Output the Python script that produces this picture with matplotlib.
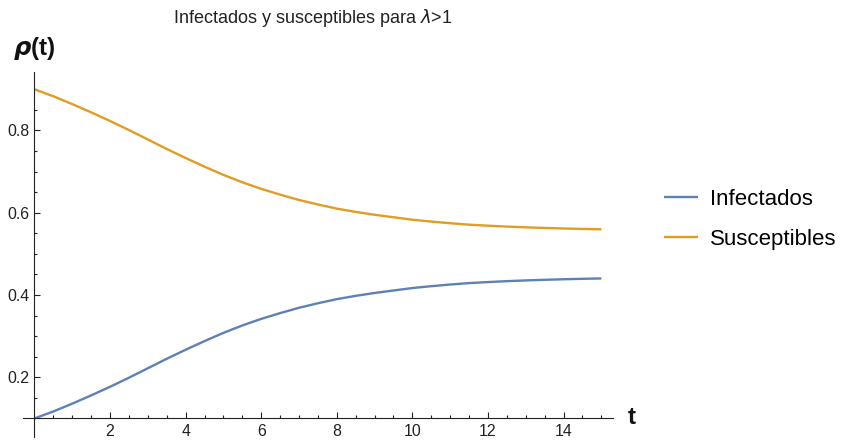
import matplotlib
matplotlib.use("Agg")
import matplotlib.pyplot as plt
from matplotlib.ticker import FixedLocator

plt.rcParams['font.family'] = ['Liberation Sans', 'DejaVu Sans']

t = [0, 0.5, 1, 1.5, 2, 2.5, 3, 3.5, 4, 4.5, 5, 5.5, 6, 6.5, 7, 7.5, 8, 8.5,
     9, 9.5, 10, 10.5, 11, 11.5, 12, 12.5, 13, 13.5, 14, 14.5, 15]
infectados = [0.100, 0.117, 0.136, 0.156, 0.177, 0.199, 0.222, 0.245, 0.267,
              0.288, 0.308, 0.326, 0.342, 0.356, 0.369, 0.380, 0.390, 0.398,
              0.405, 0.411, 0.417, 0.4215, 0.4255, 0.429, 0.4315, 0.4337,
              0.4355, 0.437, 0.4383, 0.4394, 0.4403]
susceptibles = [0.900, 0.883, 0.864, 0.844, 0.823, 0.801, 0.778, 0.755, 0.733,
                0.712, 0.692, 0.674, 0.658, 0.644, 0.631, 0.620, 0.610, 0.602,
                0.595, 0.589, 0.583, 0.5785, 0.5745, 0.571, 0.5685, 0.5663,
                0.5645, 0.563, 0.5617, 0.5606, 0.5597]
series_names = ["Infectados", "Susceptibles"]
title = "Infectados y susceptibles para $\\mathit{\\lambda}$>1"

W, H = 841, 441
fig = plt.figure(figsize=(W / 100, H / 100), dpi=100)
left, right, top, bottom = 22.7, 612.7, 72, 436.7
ax = fig.add_axes([left / W, 1 - bottom / H, (right - left) / W, (bottom - top) / H])

ax.plot(t, infectados, color='#5E81B5', lw=1.7, label=series_names[0], solid_capstyle='butt')
ax.plot(t, susceptibles, color='#E19C24', lw=1.7, label=series_names[1], solid_capstyle='butt')

ax.set_xlim(-0.31, 15.3)
ax.set_ylim(0.0557, 0.942)

for s in ['top', 'right']:
    ax.spines[s].set_visible(False)
ax.spines['left'].set_position(('data', 0))
ax.spines['bottom'].set_position(('data', 0.1))
for s in ['left', 'bottom']:
    ax.spines[s].set_linewidth(0.8)
    ax.spines[s].set_color('#222222')

ax.xaxis.set_major_locator(FixedLocator([2, 4, 6, 8, 10, 12, 14]))
ax.xaxis.set_minor_locator(FixedLocator([x * 0.5 for x in range(1, 31) if x % 4 != 0]))
ax.yaxis.set_major_locator(FixedLocator([0.2, 0.4, 0.6, 0.8]))
ax.yaxis.set_minor_locator(FixedLocator([0.15, 0.25, 0.3, 0.35, 0.45, 0.5, 0.55,
                                          0.65, 0.7, 0.75, 0.85, 0.9]))
ax.tick_params(which='both', direction='in', color='#222222', width=0.8,
               labelsize=11.4, labelcolor='#222222')
ax.tick_params(which='major', length=4.5)
ax.tick_params(which='minor', length=2.3)
ax.tick_params(axis='x', pad=4)
ax.tick_params(axis='y', pad=3.5)
ax.set_xticklabels(['2', '4', '6', '8', '10', '12', '14'])
ax.set_yticklabels(['0.2', '0.4', '0.6', '0.8'])

fig.text(312.5 / W, 1 - 18 / H, title, ha='center', va='center', fontsize=13, color='#222222')
fig.text(34.5 / W, 1 - 49 / H, r"$\boldsymbol{\rho}$(t)", ha='center', va='center',
         fontsize=17.5, fontweight='bold', color='#111111')
fig.text(632 / W, 1 - 418 / H, "t", ha='center', va='center', fontsize=17.5,
         fontweight='bold', color='#111111')

fig.legend(loc='center left', bbox_to_anchor=(664 / W, 1 - 219.5 / H), frameon=False,
           fontsize=16, handlelength=1.55, handletextpad=0.53, labelspacing=0.85,
           borderpad=0, borderaxespad=0)

fig.savefig('out.png', dpi=100)
